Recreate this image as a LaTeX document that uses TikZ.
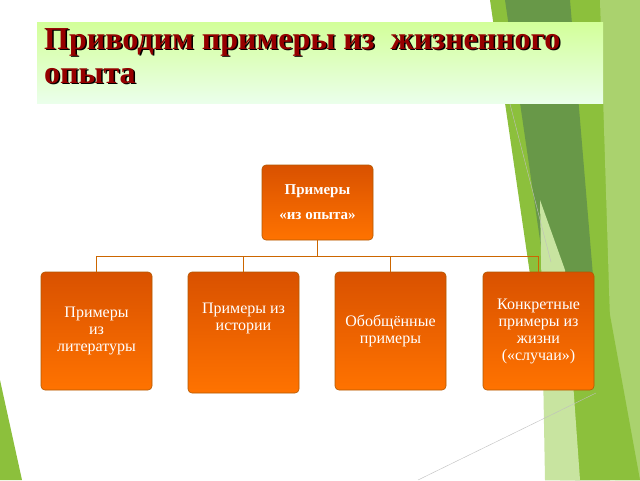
\documentclass[tikz,border=0pt]{standalone}
\usepackage{fontspec}
\setmainfont{Liberation Serif}
\definecolor{gA}{RGB}{140,192,60}
\definecolor{gB}{RGB}{104,152,72}
\definecolor{gC}{RGB}{170,210,110}
\definecolor{gD}{RGB}{200,228,160}
\definecolor{tred}{RGB}{150,0,0}
\begin{document}
\begin{tikzpicture}[x=1pt,y=-1pt,
  ob/.style={draw=orange!70!black,line width=0.6pt,rounded corners=4pt,top color=orange!75!red!85!black,bottom color=orange!90!red,text=white,align=center,font=\fontsize{16}{17}\selectfont,inner sep=2pt},
  conn/.style={draw=orange!80!black,line width=1pt}]
\useasboundingbox (0,0) rectangle (640,480);
\fill[white] (0,0) rectangle (640,480);
% green decoration
\fill[gA] (490,0) -- (640,0) -- (640,480) -- (560,480) -- cycle;
\fill[gB] (505,0) -- (570,0) -- (610,480) -- (575,480) -- cycle;
\fill[gC] (600,0) -- (640,0) -- (640,480) -- (615,480) -- cycle;
\fill[gA] (545,480) -- (600,260) -- (640,480) -- cycle;
\fill[gD] (540,200) -- (565,270) -- (580,480) -- (545,480) -- cycle;
\fill[gA] (0,380) -- (22,480) -- (0,480) -- cycle;
\draw[gray!50] (510,104) -- (551,262);
\draw[gray!50] (596,393) -- (418,480);
% title
\shade[top color=green!25!lime!40,bottom color=green!8] (37,22) rectangle (603,103);
\node[anchor=north west,align=left,font=\bfseries\fontsize{32}{34}\selectfont,text=black,inner sep=0] (tsh) at (45.5,29.5) {Приводим примеры из\ \ жизненного\\опыта};
\node[anchor=north west,align=left,font=\bfseries\fontsize{32}{34}\selectfont,text=tred,inner sep=0] (t) at (44,28) {Приводим примеры из\ \ жизненного\\опыта};
% boxes
\node[ob,minimum width=111pt,minimum height=75pt,font=\bfseries\fontsize{15}{25}\selectfont] (top) at (317.5,202.5) {Примеры\\«из опыта»};
\node[ob,minimum width=111pt,minimum height=118pt] (c1) at (96.5,331) {Примеры\\из\\литературы};
\node[ob,minimum width=111pt,minimum height=121pt] (c2) at (243.5,332.5) {Примеры из\\истории\\[14pt]};
\node[ob,minimum width=111pt,minimum height=118pt] (c3) at (390.5,331) {Обобщённые\\примеры};
\node[ob,minimum width=111pt,minimum height=118pt] (c4) at (538.5,331) {Конкретные\\примеры из\\жизни\\(«случаи»)};
\coordinate (j) at (317.5,256);
\draw[conn] (top.south) -- (j);
\draw[conn] (c1.north) |- (j);
\draw[conn] (c2.north) |- (j);
\draw[conn] (c3.north) |- (j);
\draw[conn] (c4.north) |- (j);
\end{tikzpicture}
\end{document}
